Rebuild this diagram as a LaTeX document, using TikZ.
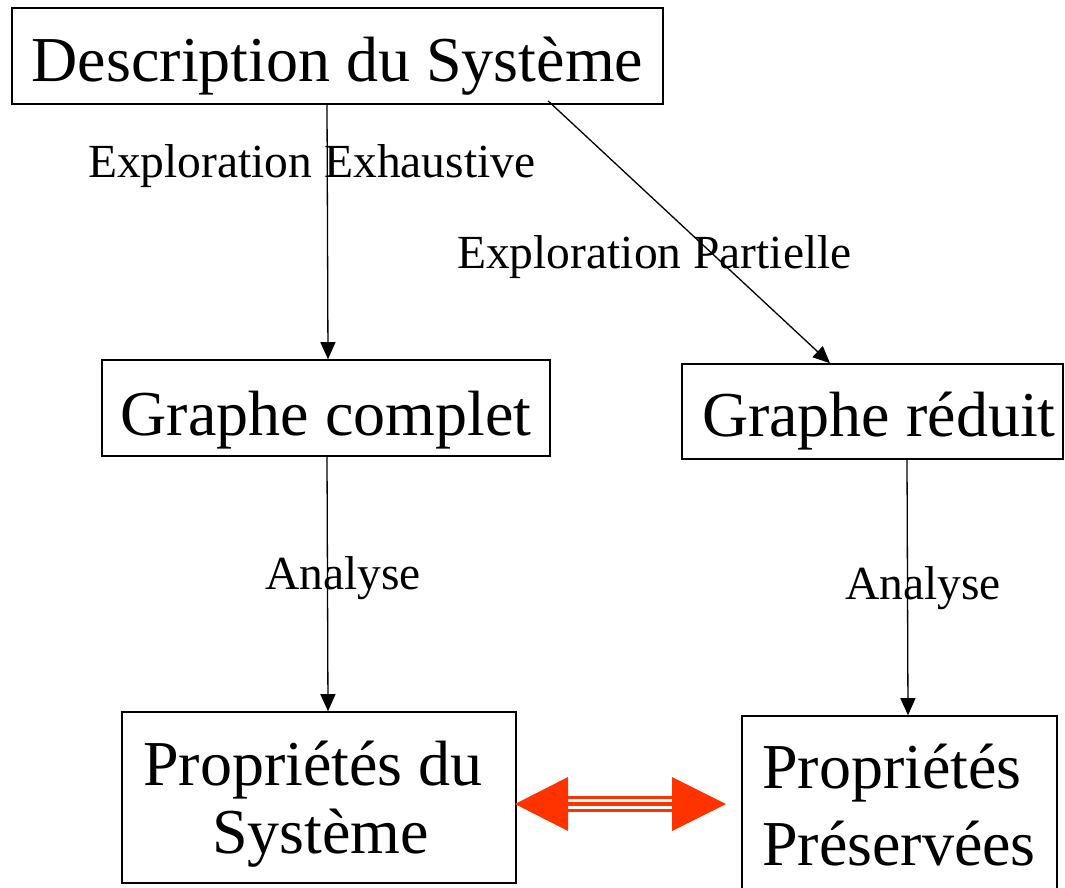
\documentclass[tikz,border=0pt]{standalone}
\usepackage{fontspec}
\setmainfont{Liberation Serif}
\usetikzlibrary{arrows.meta}
\definecolor{redarr}{RGB}{255,51,0}
\begin{document}
\begin{tikzpicture}[x=1pt,y=-1pt,
  box/.style={draw=black,line width=1.6pt,inner sep=0pt,text depth=0pt,font=\fontsize{64}{75}\selectfont},
  btxt/.style={inner sep=0pt,anchor=base west,font=\fontsize{64}{75}\selectfont},
  lbl/.style={inner sep=0pt,anchor=base west,font=\fontsize{47.5}{55}\selectfont},
  arr/.style={line width=1.3pt,-{Triangle[length=17pt,width=15pt]}}]
\useasboundingbox (0,0) rectangle (1065,888);
\node[box,minimum width=651pt,minimum height=96pt,text height=52pt] (desc) at (337.5,56) {Description du Système};
\node[box,minimum width=448pt,minimum height=96pt,text height=54pt] (gc) at (326,408) {Graphe complet};
\node[box,minimum width=381pt,minimum height=95pt,text height=49pt] (gr) at (872.5,411.5) {\makebox[381pt][l]{\hspace{20pt}Graphe réduit}};
\node[box,minimum width=394pt,minimum height=171pt] (psys) at (319,797.5) {};
\node[btxt] (psys1) at (143,785) {Propriétés du};
\node[btxt] (psys2) at (212,853) {Système};
\node[box,minimum width=315pt,minimum height=180pt] (ppres) at (899.5,806) {};
\node[btxt] (ppres1) at (762,788) {Propriétés};
\node[btxt] (ppres2) at (762,865) {Préservées};
\draw[arr] ([xshift=-10.5pt]desc.south) -- ([xshift=2pt]gc.north);
\draw[arr] ([xshift=210.5pt,yshift=4pt]desc.south) -- ([xshift=-42.5pt]gr.north);
\draw[arr] ([xshift=1pt]gc.south) -- ([xshift=9pt]psys.north);
\draw[arr] ([xshift=34.5pt]gr.south) -- ([xshift=8.5pt]ppres.north);
\node[lbl] (l1) at (88,177) {Exploration Exhaustive};
\node[lbl] (l2) at (457,268) {Exploration Partielle};
\node[lbl] (l3) at (265,589) {Analyse};
\node[lbl] (l4) at (845,599) {Analyse};
\coordinate (rl) at (515,804);
\coordinate (rr) at (726,804);
\fill[redarr] (rl) -- ++(53,-27) -- ++(0,54) -- cycle;
\fill[redarr] (rr) -- ++(-54,-27) -- ++(0,54) -- cycle;
\foreach \o in {-6.5,0,6.5}
  \draw[redarr,line width=3.8pt] ([shift={(50,\o)}]rl) -- ([shift={(-50,\o)}]rr);
\end{tikzpicture}
\end{document}
